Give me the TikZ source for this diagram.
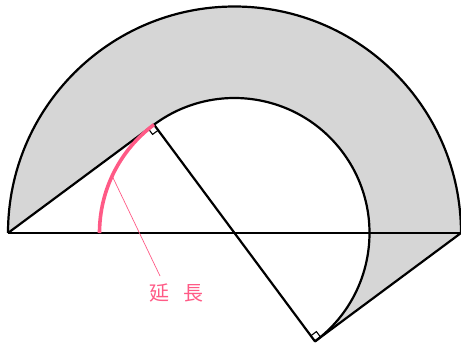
\documentclass[tikz,border=0pt]{standalone}
\usepackage{fontspec}
\usetikzlibrary{calc}
\newfontfamily\cjk{Noto Sans CJK JP}
\definecolor{pinkc}{HTML}{FF5A86}
\definecolor{greyfill}{HTML}{D6D6D6}
\begin{document}
\begin{tikzpicture}[x=1pt,y=1pt,
  edge/.style={line width=2.2pt,line join=round},
  rmark/.style={line width=1.1pt}]
\useasboundingbox (0,0) rectangle (461,-346);
\def\R{226.5}
\def\r{135}
\def\ang{53.4}
\coordinate (O) at (234.5,-233);
\coordinate (A) at (8,-233);
\coordinate (B) at (461,-233);
\coordinate (P) at ($(O)+({\r*cos(180-\ang)},{\r*sin(180-\ang)})$);
\coordinate (Q) at ($(O)+({\r*cos(-\ang)},{\r*sin(-\ang)})$);
\coordinate (L) at ($(O)+(-\r,0)$);
% shaded region
\fill[greyfill] (A) arc[start angle=180,end angle=0,radius=\R] -- (Q)
  arc[start angle=-\ang,end angle=180-\ang,radius=\r] -- cycle;
% outline
\draw[edge] (A) arc[start angle=180,end angle=0,radius=\R];
\draw[edge] (Q) arc[start angle=-\ang,end angle=180-\ang,radius=\r];
\draw[edge] (A) -- (B);
\draw[edge] (A) -- (P) -- (Q) -- (B);
% right-angle marks
\coordinate (pa) at ($(P)!7pt!(A)$);
\coordinate (pq) at ($(P)!7pt!(Q)$);
\coordinate (qp) at ($(Q)!7pt!(P)$);
\coordinate (qb) at ($(Q)!7pt!(B)$);
\draw[rmark] (pa) -- ($(pa)+(pq)-(P)$) -- (pq);
\draw[rmark] (qp) -- ($(qp)+(qb)-(Q)$) -- (qb);
% extension arc
\draw[pinkc,line width=3.6pt] (L) arc[start angle=180,end angle=180-\ang,radius=\r];
\coordinate (lead) at ($(O)+({\r*cos(155)},{\r*sin(155)})$);
\node[text=pinkc,font=\cjk\fontsize{20}{20}\selectfont] (lab) at (176.5,-292.5) {延\hspace{14pt}長};
\coordinate (leadend) at (160,-276);
\draw[pinkc,line width=0.7pt] (lead) -- (leadend);
\end{tikzpicture}
\end{document}
